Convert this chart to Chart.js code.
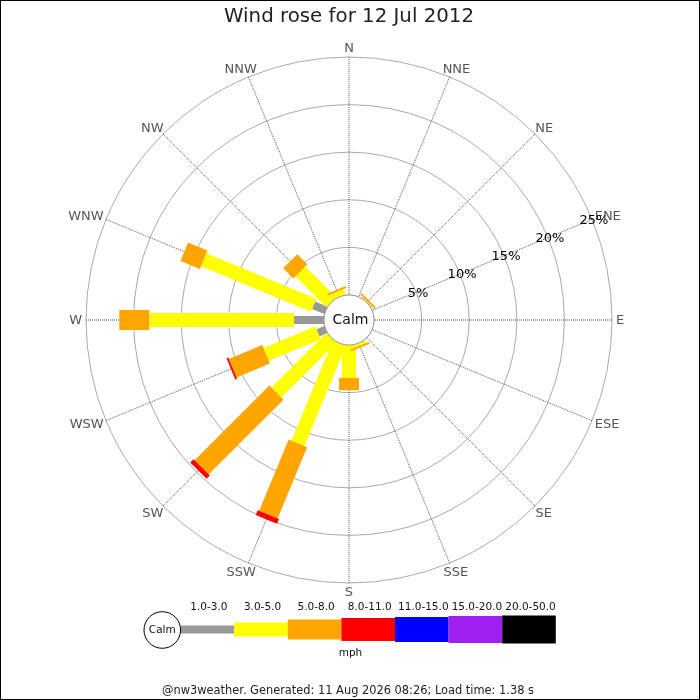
<!DOCTYPE html>
<html>
<head>
<meta charset="utf-8">
<title>Wind rose for 12 Jul 2012</title>
<script src="https://cdn.jsdelivr.net/npm/chart.js@4.4.1/dist/chart.umd.min.js"></script>
<style>
  html, body { margin: 0; padding: 0; background: #fff; }
  #wrap { width: 700px; height: 700px; position: relative; }
</style>
</head>
<body>
<div id="wrap"><canvas id="rose"></canvas></div>
<script>
// compass points, clockwise from north
const directions = ["N", "NNE", "NE", "ENE", "E", "ESE", "SE", "SSE",
                    "S", "SSW", "SW", "WSW", "W", "WNW", "NW", "NNW"];
const speedBands = ["1.0-3.0", "3.0-5.0", "5.0-8.0", "8.0-11.0", "11.0-15.0", "15.0-20.0", "20.0-50.0"];

// % of the day in each speed band, one value per direction (N .. NNW)
const band1to3   = [0, 0, 0,   0, 0, 0, 0, 0,   0,    0,    0,    0.9, 3.15, 1.4,  0,   0];
const band3to5   = [0, 0, 0.1, 0, 0, 0, 0, 0.3, 3.45, 11.4, 8.15, 5.9, 15.2, 12.5, 4.6, 0.6];
const band5to8   = [0, 0, 0.2, 0, 0, 0, 0, 0.2, 1.3,  8.1,  11.1, 3.8, 3.15, 2.2,  1.5, 0.2];
const band8to11  = [0, 0, 0,   0, 0, 0, 0, 0,   0,    0.55, 0.5,  0.2, 0,    0,    0,   0];
const band11to15 = [0, 0, 0,   0, 0, 0, 0, 0,   0,    0,    0,    0,   0,    0,    0,   0];
const band15to20 = [0, 0, 0,   0, 0, 0, 0, 0,   0,    0,    0,    0,   0,    0,    0,   0];
const band20to50 = [0, 0, 0,   0, 0, 0, 0, 0,   0,    0,    0,    0,   0,    0,    0,   0];

const ringTicks = [5, 10, 15, 20, 25];
const calmLabel = "Calm";
const unitLabel = "mph";
const titleText = "Wind rose for 12 Jul 2012";
const footerText = "@nw3weather. Generated: 11 Aug 2026 08:26; Load time: 1.38 s";

// styles
const bandColors = ["#999999", "#ffff00", "#ffa500", "#ff0000", "#0000ff", "#a020f0", "#000000"];
const bandWidths = [8, 14, 20, 23, 25, 27, 28];
const FONT = '"DejaVu Sans", sans-serif';

Chart.defaults.font.family = FONT;

const bandData = [band1to3, band3to5, band5to8, band8to11, band11to15, band15to20, band20to50];

// draws the rose bars, calm hole, labels, legend strip and frame
const rosePlugin = {
  id: "rose",
  beforeDraw(chart) {
    const ctx = chart.ctx;
    ctx.save();
    ctx.fillStyle = "#fff";
    ctx.fillRect(0, 0, chart.width, chart.height);
    ctx.restore();
  },
  afterDatasetsDraw(chart) {
    const ctx = chart.ctx;
    const s = chart.scales.r;
    const cum = directions.map(() => 0);

    ctx.save();
    ctx.lineCap = "butt";
    chart.data.datasets.forEach((ds, k) => {
      ctx.strokeStyle = bandColors[k];
      ctx.lineWidth = bandWidths[k];
      ds.data.forEach((v, i) => {
        if (!v) return;
        const a = s.getPointPositionForValue(i, cum[i]);
        const b = s.getPointPositionForValue(i, cum[i] + v);
        ctx.beginPath();
        ctx.moveTo(a.x, a.y);
        ctx.lineTo(b.x, b.y);
        ctx.stroke();
        cum[i] += v;
      });
    });

    // calm hole
    const r0 = s.getDistanceFromCenterForValue(0);
    ctx.beginPath();
    ctx.arc(s.xCenter, s.yCenter, r0, 0, Math.PI * 2);
    ctx.fillStyle = "#fff";
    ctx.fill();
    ctx.lineWidth = 1;
    ctx.strokeStyle = "#999";
    ctx.stroke();

    ctx.textAlign = "center";
    ctx.textBaseline = "middle";
    ctx.fillStyle = "#111";
    ctx.font = "14px " + FONT;
    ctx.fillText(calmLabel, s.xCenter + 1.5, s.yCenter + 0.5);

    // compass labels just outside the outer ring
    ctx.font = "13px " + FONT;
    ctx.fillStyle = "#555";
    directions.forEach((d, i) => {
      const p = s.getPointPosition(i, s.drawingArea + 4);
      const w = ctx.measureText(d).width;
      ctx.fillText(d, p.x + Math.cos(p.angle) * w / 2, p.y + 1 + Math.sin(p.angle) * 5);
    });

    // percentage labels along the ENE spoke
    ctx.font = "13px " + FONT;
    ctx.fillStyle = "#000";
    ringTicks.forEach((t) => {
      const p = s.getPointPositionForValue(3, t);
      ctx.fillText(t + "%", p.x + 2, p.y + 1);
    });
    ctx.restore();
  },
  afterDraw(chart) {
    const ctx = chart.ctx;
    ctx.save();

    // legend strip
    const cx = 162.3, cy = 630, cr = 18.3;
    const x0 = cx + cr, segW = 53.6, midY = 629.5;
    speedBands.forEach((b, k) => {
      const x = x0 + k * segW;
      ctx.fillStyle = bandColors[k];
      ctx.fillRect(x, midY - bandWidths[k] / 2, segW, bandWidths[k]);
    });
    ctx.beginPath();
    ctx.arc(cx, cy, cr, 0, Math.PI * 2);
    ctx.fillStyle = "#fff";
    ctx.fill();
    ctx.strokeStyle = "#000";
    ctx.lineWidth = 1;
    ctx.stroke();

    ctx.textAlign = "center";
    ctx.textBaseline = "middle";
    ctx.fillStyle = "#111";
    ctx.font = "10.5px " + FONT;
    ctx.fillText(calmLabel, cx, cy);
    speedBands.forEach((b, k) => {
      ctx.fillText(b, x0 + k * segW + segW / 2 + 1.5, 607);
    });
    ctx.fillText(unitLabel, 350.5, 653.5);

    ctx.font = "11.4px " + FONT;
    ctx.fillStyle = "#222";
    ctx.fillText(footerText, 348, 691.5);

    // frame
    ctx.strokeStyle = "#000";
    ctx.strokeRect(0.5, 0.5, chart.width - 1, chart.height - 1);
    ctx.restore();
  }
};

new Chart(document.getElementById("rose"), {
  type: "radar",
  data: {
    labels: directions,
    datasets: bandData.map((d, k) => ({
      label: speedBands[k],
      data: d,
      showLine: false,
      fill: false,
      pointRadius: 0,
      pointHoverRadius: 0
    }))
  },
  options: {
    responsive: true,
    maintainAspectRatio: false,
    animation: false,
    events: [],
    layout: { padding: { left: 86, right: 88, top: 0, bottom: 116 } },
    plugins: {
      legend: { display: false },
      tooltip: { enabled: false },
      title: {
        display: true,
        text: titleText,
        color: "#222",
        font: { size: 19.8, weight: "normal", lineHeight: 1.2 },
        padding: { top: 5.3, bottom: 28.9 }
      }
    },
    scales: {
      r: {
        min: -2.63,   // leaves room for the calm hole
        max: 25,
        startAngle: 0,
        ticks: { display: false, stepSize: 5 },
        afterBuildTicks: (scale) => {
          scale.ticks = [0].concat(ringTicks).map((v) => ({ value: v }));
        },
        grid: { circular: true, color: "#aaa", lineWidth: 1 },
        angleLines: { color: "#555", lineWidth: 1, borderDash: [1, 1] },
        pointLabels: { display: false }
      }
    }
  },
  plugins: [rosePlugin]
});
</script>
</body>
</html>
